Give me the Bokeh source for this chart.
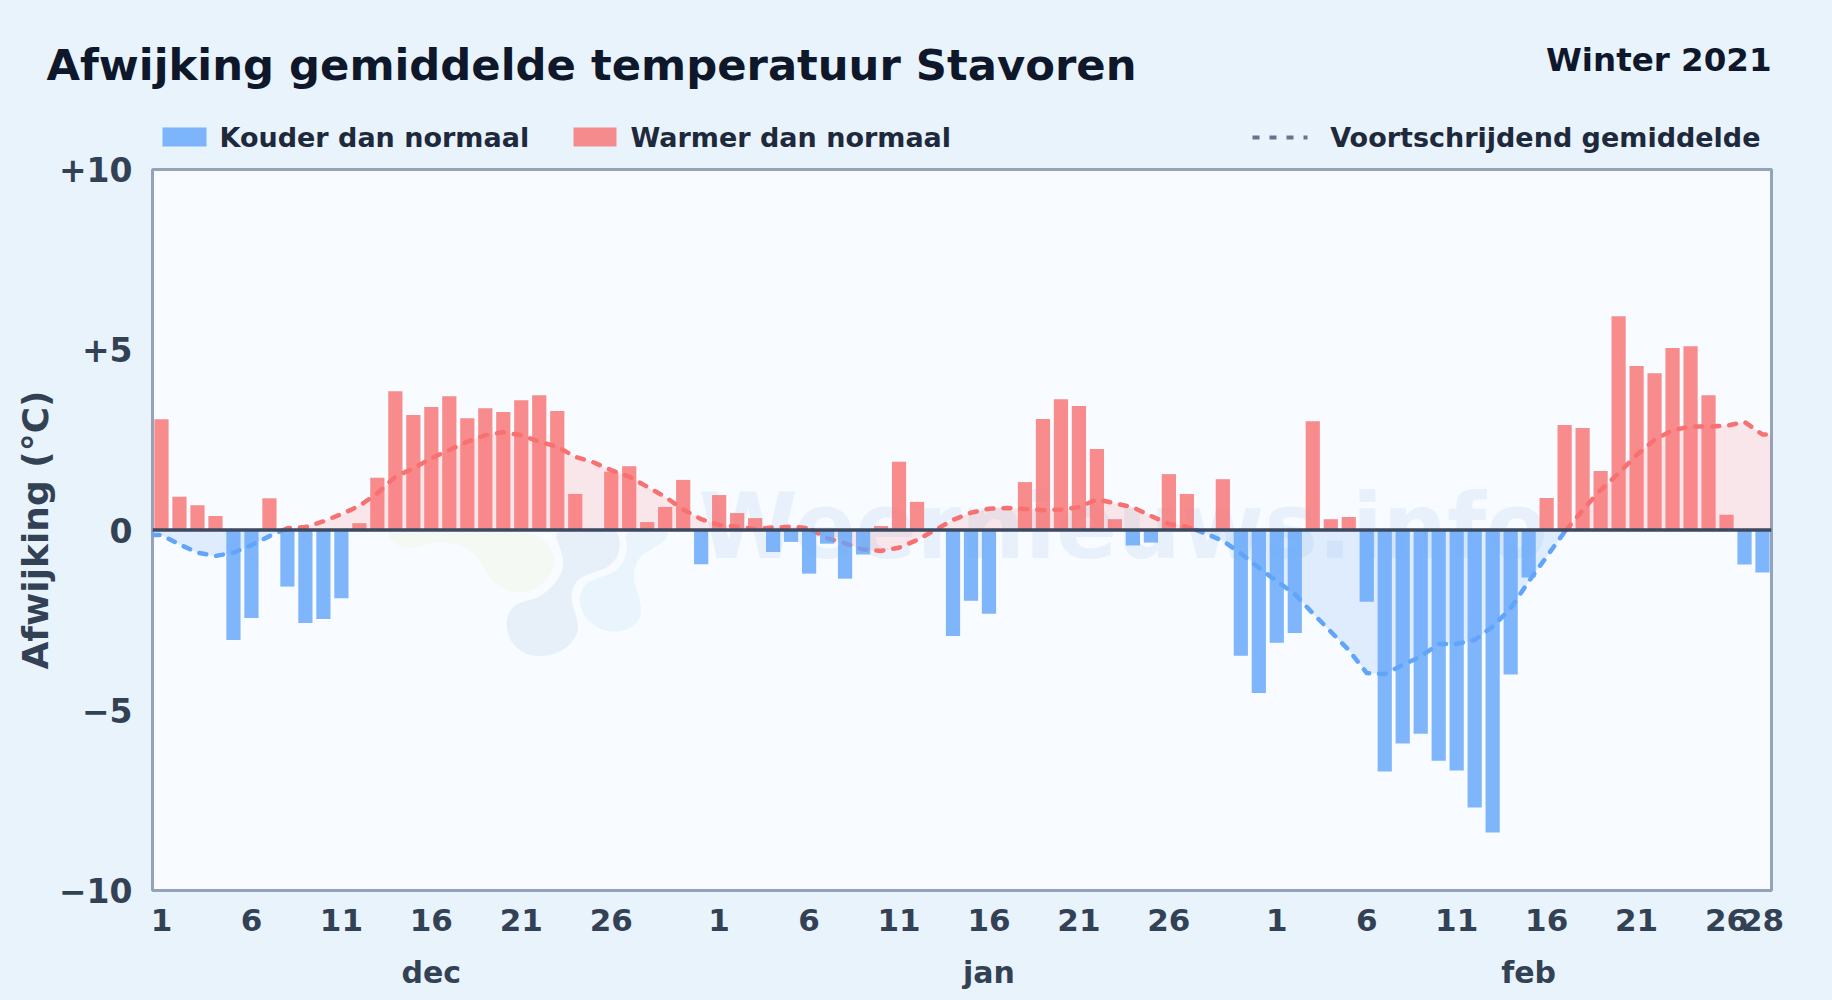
from bokeh.plotting import figure
from bokeh.layouts import column
from bokeh.models import Range1d, LinearAxis, FixedTicker, Span, Label, PolyAnnotation
from bokeh.embed import file_html
from bokeh.resources import INLINE
import numpy as np

# ---------- data ----------
deviation_dec = [3.07, 0.92, 0.69, 0.39, -3.05, -2.44, 0.88, -1.57, -2.58, -2.47, -1.89, 0.19, 1.45, 3.85, 3.19, 3.41,
                 3.71, 3.10, 3.38, 3.27, 3.60, 3.74, 3.30, 1.00, 0.0, 1.62, 1.77, 0.22, 0.64, 1.39, -0.95]
deviation_jan = [0.97, 0.47, 0.33, -0.61, -0.33, -1.21, -0.38, -1.35, -0.68, 0.11, 1.89, 0.78, 0.0, -2.94, -1.96, -2.32,
                 0.0, 1.33, 3.08, 3.63, 3.44, 2.25, 0.30, -0.43, -0.35, 1.55, 1.00, 0.0, 1.41, -3.49, -4.52]
deviation_feb = [-3.13, -2.86, 3.02, 0.30, 0.36, -1.99, -6.70, -5.92, -5.65, -6.40, -6.67, -7.70, -8.39, -4.01, -1.32,
                 0.89, 2.91, 2.83, 1.64, 5.93, 4.55, 4.35, 5.05, 5.10, 3.74, 0.42, -0.96, -1.18]
rolling_dec = [-0.14, -0.40, -0.63, -0.72, -0.63, -0.42, -0.17, 0.05, 0.08, 0.24, 0.44, 0.67, 1.02, 1.48, 1.71, 1.99,
               2.22, 2.45, 2.63, 2.71, 2.63, 2.45, 2.31, 2.03, 1.88, 1.66, 1.48, 1.20, 0.92, 0.57, 0.30]
rolling_jan = [0.14, 0.09, 0.03, 0.07, 0.09, 0.05, -0.23, -0.37, -0.54, -0.58, -0.49, -0.28, 0.0, 0.28, 0.48, 0.59,
               0.61, 0.58, 0.55, 0.57, 0.63, 0.85, 0.74, 0.63, 0.39, 0.17, 0.09, -0.09, -0.30, -0.65, -1.05]
rolling_feb = [-1.42, -1.78, -2.31, -2.82, -3.33, -3.97, -4.00, -3.74, -3.51, -3.16, -3.16, -3.05, -2.68, -2.17, -1.43,
               -0.74, -0.05, 0.55, 1.11, 1.57, 2.08, 2.50, 2.77, 2.87, 2.87, 2.89, 3.00, 2.65]
day_ticks = [0, 5, 10, 15, 20, 25, 31, 36, 41, 46, 51, 56, 62, 67, 72, 77, 82, 87, 89]
day_labels = ["1", "6", "11", "16", "21", "26", "1", "6", "11", "16", "21", "26", "1", "6", "11", "16", "21", "26", "28"]
month_ticks = [15, 46, 76]
month_labels = ["dec", "jan", "feb"]
y_ticks = [-10, -5, 0, 5, 10]
y_labels = ["\u221210", "\u22125", "0", "+5", "+10"]

deviation = np.array(deviation_dec + deviation_jan + deviation_feb)
rolling = np.array(rolling_dec + rolling_jan + rolling_feb)
days = np.arange(len(deviation))

FONT = "DejaVu Sans"
INK = "#0f172a"
SLATE = "#334155"
LEGEND = "#1e293b"
BLUE = "#60a5fa"
RED = "#f87171"
PAGE = "#e8f3fc"
HEAD = 156      # height of the header strip
TOP = 146       # page y where the chart canvas starts (overlaps the strip, its border is transparent)

# ---------- header strip: title, period, legend ----------
h = figure(width=1832, height=HEAD, output_backend="svg", toolbar_location=None,
           x_range=Range1d(0, 1832), y_range=Range1d(HEAD, 0), x_axis_type=None, y_axis_type=None,
           min_border_left=0, min_border_right=0, min_border_top=0, min_border_bottom=0,
           background_fill_color=PAGE, border_fill_color=PAGE, outline_line_color=None, frame_align=False)
h.xgrid.visible = False
h.ygrid.visible = False


def text(x, y, s, size, color, align="left"):
    h.add_layout(Label(x=x, y=HEAD - y, x_units="screen", y_units="screen", text=s, text_font=FONT,
                       text_font_style="bold", text_font_size=size, text_color=color, text_align=align,
                       text_baseline="middle"))


text(46, 64, "Afwijking gemiddelde temperatuur Stavoren", "43.3px", INK)
text(1771, 59, "Winter 2021", "32.5px", INK, align="right")
text(219, 137, "Kouder dan normaal", "27px", LEGEND)
text(630, 137, "Warmer dan normaal", "27px", LEGEND)
text(1760, 137, "Voortschrijdend gemiddelde", "27px", LEGEND, align="right")
h.quad(left=[162], right=[206], top=[127], bottom=[146], fill_color=BLUE, fill_alpha=0.8, line_color=None)
h.quad(left=[573], right=[616], top=[127], bottom=[146], fill_color=RED, fill_alpha=0.8, line_color=None)
h.line(x=[1252, 1307], y=[137, 137], line_color="#64748b", line_width=4, line_dash="7 10")

# ---------- main chart ----------
p = figure(width=1832, height=1000 - TOP, output_backend="svg", toolbar_location=None,
           x_range=Range1d(-0.5, 89.5), y_range=Range1d(-10, 10),
           x_axis_type=None, y_axis_type=None, margin=(TOP - HEAD, 0, 0, 0),
           min_border_left=152, min_border_right=61, min_border_top=169 - TOP, min_border_bottom=110,
           background_fill_color="#f8fbff", border_fill_color=None,
           outline_line_color="#94a3b8", outline_line_width=3, frame_align=False)

yax = LinearAxis(ticker=FixedTicker(ticks=y_ticks),
                 major_label_overrides=dict(zip(y_ticks, y_labels)),
                 major_label_text_font=FONT, major_label_text_font_style="bold",
                 major_label_text_font_size="33px", major_label_text_color=SLATE,
                 major_label_standoff=14, major_tick_line_color=None, minor_tick_line_color=None,
                 axis_line_color=None, axis_label="Afwijking (\u00b0C)", axis_label_text_font=FONT,
                 axis_label_text_font_style="bold", axis_label_text_font_size="36px",
                 axis_label_text_color=SLATE, axis_label_standoff=0)
p.add_layout(yax, "left")
xax = LinearAxis(ticker=FixedTicker(ticks=day_ticks),
                 major_label_overrides=dict(zip(day_ticks, day_labels)),
                 major_label_text_font=FONT, major_label_text_font_style="bold",
                 major_label_text_font_size="31px", major_label_text_color=SLATE,
                 major_label_standoff=12, major_tick_line_color=None, minor_tick_line_color=None,
                 axis_line_color=None)
p.add_layout(xax, "below")
max_ = LinearAxis(ticker=FixedTicker(ticks=month_ticks),
                  major_label_overrides=dict(zip(month_ticks, month_labels)),
                  major_label_text_font=FONT, major_label_text_font_style="bold",
                  major_label_text_font_size="30px", major_label_text_color=SLATE,
                  major_label_standoff=15, major_tick_line_color=None, minor_tick_line_color=None,
                  axis_line_color=None)
p.add_layout(max_, "below")
p.ygrid.ticker = FixedTicker(ticks=[-5, 5])
p.ygrid.grid_line_color = "#e2e8f0"
p.ygrid.grid_line_width = 2
p.xgrid.visible = False


def chaikin(pts, n=3):
    a = np.array(pts, float)
    for _ in range(n):
        b = np.roll(a, -1, axis=0)
        a = np.column_stack([0.75 * a + 0.25 * b, 0.25 * a + 0.75 * b]).reshape(-1, 2)
    return a


def blob(pts, color):
    a = chaikin(pts)
    p.add_layout(PolyAnnotation(xs=list(370 + a[:, 0] / 3), ys=list(440 + a[:, 1] / 3 - TOP),
                                xs_units="canvas", ys_units="canvas", fill_color=color, fill_alpha=1,
                                line_color=None, level="underlay"))


blob([(45, 262), (60, 300), (90, 320), (130, 325), (190, 305), (260, 310), (310, 335), (345, 395), (385, 440),
      (440, 460), (500, 445), (548, 395), (555, 355), (530, 305), (490, 280), (430, 262)], "#f4faf3")
blob([(545, 262), (572, 330), (582, 380), (555, 430), (505, 472), (450, 485), (420, 505), (405, 550), (420, 605),
      (460, 640), (515, 650), (578, 632), (618, 590), (625, 555), (608, 500), (600, 460), (620, 415), (670, 395),
      (720, 378), (748, 335), (748, 290), (730, 262)], "#e7f0f9")
blob([(628, 470), (640, 432), (680, 412), (730, 398), (762, 362), (772, 320), (760, 262), (895, 262), (888, 298),
      (850, 322), (810, 345), (790, 385), (790, 425), (810, 480), (812, 530), (785, 562), (730, 577), (680, 562),
      (645, 532), (630, 500)], "#e9f4fd")
p.add_layout(Label(x=698, y=526 - TOP, x_units="canvas", y_units="canvas", text="Weernieuws.info", text_font=FONT,
                   text_font_style="bold", text_font_size="90px", text_color="#e3eefa", text_alpha=0.75,
                   text_baseline="alphabetic", level="underlay"))

# rolling mean: runs to both plot edges, split at zero crossings
line_x = np.concatenate(([-0.5], days, [89.5]))
line_y = np.concatenate(([rolling[0]], rolling, [rolling[-1]]))
xs, ys = [line_x[0]], [line_y[0]]
runs = []
for i in range(1, len(line_x)):
    y0, y1 = line_y[i - 1], line_y[i]
    if y0 * y1 < 0:
        xc = line_x[i - 1] + (line_x[i] - line_x[i - 1]) * y0 / (y0 - y1)
        xs.append(xc); ys.append(0.0)
        runs.append((xs, ys))
        xs, ys = [xc], [0.0]
    xs.append(line_x[i]); ys.append(y1)
runs.append((xs, ys))
for rx, ry in runs:
    positive = np.nansum(ry) > 0
    col = RED if positive else BLUE
    p.varea(x=rx, y1=ry, y2=[0] * len(ry), fill_color=col, fill_alpha=0.15 if positive else 0.17)
    p.line(x=rx, y=ry, line_color=col, line_width=4.5, line_dash="7 10", line_cap="round", line_join="round")

# bars
pos = deviation > 0
neg = deviation < 0
p.vbar(x=days[neg], top=deviation[neg], bottom=0, width=0.79, fill_color=BLUE, fill_alpha=0.8, line_color=None)
p.vbar(x=days[pos], top=deviation[pos], bottom=0, width=0.79, fill_color=RED, fill_alpha=0.8, line_color=None)
p.add_layout(Span(location=0, dimension="width", line_color="#3b4a60", line_width=3.5))

page = column(h, p, spacing=0, styles={"background-color": PAGE})
open("out.html", "w").write(file_html(page, INLINE))
